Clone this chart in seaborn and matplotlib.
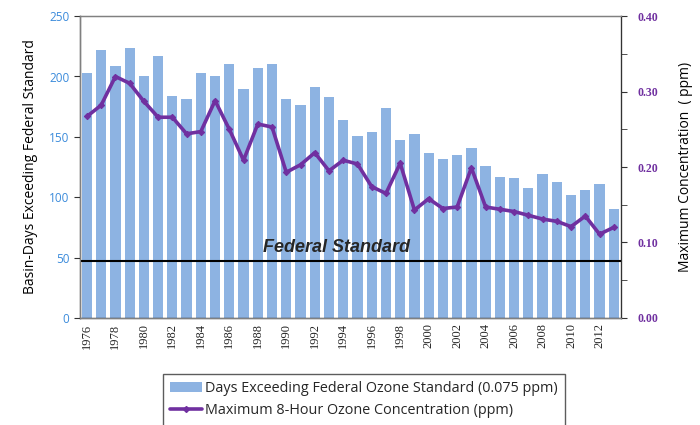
import matplotlib
matplotlib.use("Agg")
import matplotlib.pyplot as plt
import seaborn as sns
import pandas as pd
import numpy as np
from matplotlib.patches import Patch
from matplotlib.lines import Line2D

years = list(range(1976, 2014))
days_exceeding = [203, 222, 209, 224, 200, 217, 184, 181, 203, 200,
                  210, 190, 207, 210, 181, 176, 191, 183, 164, 151,
                  154, 174, 147, 152, 137, 132, 135, 141, 126, 117,
                  116, 108, 119, 113, 102, 106, 111, 90]
max_conc = [0.267, 0.282, 0.320, 0.311, 0.287, 0.266, 0.266, 0.244, 0.247, 0.288,
            0.250, 0.209, 0.257, 0.253, 0.193, 0.203, 0.219, 0.195, 0.209, 0.204,
            0.174, 0.165, 0.205, 0.143, 0.158, 0.145, 0.147, 0.199, 0.147, 0.144,
            0.141, 0.136, 0.131, 0.128, 0.121, 0.135, 0.111, 0.120]
federal_standard = 0.075

bar_label = "Days Exceeding Federal Ozone Standard (0.075 ppm)"
line_label = "Maximum 8-Hour Ozone Concentration (ppm)"

df = pd.DataFrame({"year": years, "days": days_exceeding, "conc": max_conc})

sns.set_style("white")
plt.rcParams['font.family'] = ['Open Sans', 'DejaVu Sans']

bar_color = "#8DB3E2"
line_color = "#7030A0"
sans = ['Open Sans', 'DejaVu Sans']
serif = ['Liberation Serif', 'DejaVu Serif']

fig = plt.figure(figsize=(7, 4.25), dpi=100)
ax = fig.add_axes([0.114, 0.252, 0.773, 0.710])

sns.barplot(data=df, x="year", y="days", native_scale=True, color=bar_color,
            saturation=1, width=0.72, ax=ax, edgecolor="none")
ax.set_xlim(1975.5, 2013.5)
ax.set_ylim(0, 250)
ax.set_yticks(np.arange(0, 251, 50))
ax.set_yticklabels([str(v) for v in range(0, 251, 50)], family=sans)
ax.tick_params(axis='y', labelsize=8.5, direction='out', length=4,
               color="#333333", labelcolor="#3B8BDB")
ax.set_ylabel("Basin-Days Exceeding Federal Standard", fontsize=10, color="black",
              labelpad=8, family=sans)
ax.set_xlabel("")

# x ticks: marks between categories, labels at centers
ax.set_xticks([y + 0.5 for y in years[:-1]] + [1975.5, 2013.5])
ax.set_xticklabels([])
ax.tick_params(axis='x', which='major', direction='out', length=4, color="#333333")
ax.set_xticks(years[::2], minor=True)
ax.set_xticklabels([str(y) for y in years[::2]], minor=True, rotation=90,
                   fontsize=9, family=serif)
ax.tick_params(axis='x', which='minor', length=0, pad=4)

for sp in ax.spines.values():
    sp.set_color("#808080")
    sp.set_linewidth(1)
ax.spines['left'].set_color("#333333")
ax.spines['bottom'].set_color("#333333")

ax2 = ax.twinx()
sns.lineplot(data=df, x="year", y="conc", color=line_color, linewidth=2.6,
             marker="D", markersize=3.2, markeredgecolor=line_color, ax=ax2)
ax2.axhline(federal_standard, color="black", linewidth=1.5)
ax2.set_ylim(0, 0.40)
ax2.set_yticks(np.arange(0, 0.41, 0.10))
ax2.set_yticklabels([f"{v:.2f}" for v in np.arange(0, 0.41, 0.10)],
                    family=serif, fontweight="bold")
ax2.set_yticks(np.arange(0.05, 0.40, 0.10), minor=True)
ax2.tick_params(axis='y', which='both', direction='out', length=4, labelsize=8.5,
                color="#333333", labelcolor="#7030A0", pad=8)
ax2.set_ylabel("Maximum Concentration  ( ppm)", fontsize=10, color="black", labelpad=14)
ax2.set_xlim(1975.5, 2013.5)
ax2.set_xlabel("")
for sp in ax2.spines.values():
    sp.set_color("#808080")
ax2.spines['right'].set_color("#333333")

ax2.text(1993.5, federal_standard + 0.007, "Federal Standard", ha="center", va="bottom",
         fontsize=13, fontweight="bold", style="italic",
         family=['Liberation Sans', 'DejaVu Sans'])

handles = [Patch(facecolor=bar_color, edgecolor="none"),
           Line2D([0], [0], color=line_color, linewidth=2.6, marker="D", markersize=3)]
leg = fig.legend(handles, [bar_label, line_label], loc="upper left",
                 bbox_to_anchor=(0.233, 0.120), frameon=True, fancybox=False,
                 fontsize=10.4, handlelength=2.2, handletextpad=0.2, borderpad=0.5,
                 labelspacing=0.5, borderaxespad=0)
leg.get_frame().set_edgecolor("#333333")
leg.get_frame().set_linewidth(1)

fig.savefig("out.png", dpi=100)
